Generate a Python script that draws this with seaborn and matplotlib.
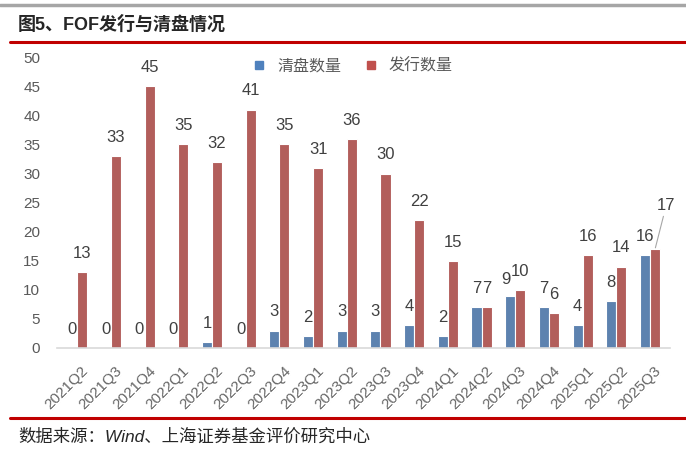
import pandas as pd
import matplotlib
matplotlib.use("Agg")
import matplotlib.pyplot as plt
import matplotlib.transforms as mtransforms
import seaborn as sns
from matplotlib.lines import Line2D

# ── Data ──────────────────────────────────────────────────────────────────────
quarters = ["2021Q2", "2021Q3", "2021Q4", "2022Q1", "2022Q2", "2022Q3",
            "2022Q4", "2023Q1", "2023Q2", "2023Q3", "2023Q4", "2024Q1",
            "2024Q2", "2024Q3", "2024Q4", "2025Q1", "2025Q2", "2025Q3"]
liquidated = [0, 0, 0, 0, 1, 0, 3, 2, 3, 3, 4, 2, 7, 9, 7, 4, 8, 16]
issued = [13, 33, 45, 35, 32, 41, 35, 31, 36, 30, 22, 15, 7, 10, 6, 16, 14, 17]
series_names = ["清盘数量", "发行数量"]
yticks = list(range(0, 51, 5))

BLUE = "#4F81BD"
RED = "#C0504D"
GRAY = "#595959"

df = pd.concat([
    pd.DataFrame({"quarter": quarters, "count": liquidated, "series": series_names[0]}),
    pd.DataFrame({"quarter": quarters, "count": issued, "series": series_names[1]}),
])

sns.set_theme(style="white")
plt.rcParams["font.family"] = ["Liberation Sans", "Noto Sans CJK SC", "DejaVu Sans"]

fig = plt.figure(figsize=(6.86, 4.5), dpi=100)
ax = fig.add_axes([0.083, 0.2267, 0.894, 0.646])

sns.barplot(data=df, x="quarter", y="count", hue="series", order=quarters,
            hue_order=series_names, palette=[BLUE, RED], width=0.6,
            edgecolor="white", linewidth=0.8, ax=ax, legend=False)

ax.set_ylim(0, 50)
ax.set_yticks(yticks)
ax.set_xlim(-0.6, len(quarters) - 0.4)
ax.set_xlabel("")
ax.set_ylabel("")
for s in ["top", "right", "left"]:
    ax.spines[s].set_visible(False)
ax.spines["bottom"].set_color("#D9D9D9")
ax.spines["bottom"].set_linewidth(1.2)
ax.tick_params(axis="y", length=0, labelsize=11, labelcolor=GRAY, pad=12)
ax.tick_params(axis="x", length=0, labelsize=11, labelcolor="#666666", pad=11)
shift = mtransforms.ScaledTranslation(4 / 100, 0, fig.dpi_scale_trans)
for lbl in ax.get_xticklabels():
    lbl.set_rotation(45)
    lbl.set_ha("right")
    lbl.set_rotation_mode("anchor")
    lbl.set_transform(lbl.get_transform() + shift)

# ── Value labels ──────────────────────────────────────────────────────────────
for k, cont in enumerate(ax.containers):
    for i, bar in enumerate(cont):
        h = bar.get_height()
        if k == 1 and i == len(quarters) - 1:
            continue
        xc = bar.get_x() + bar.get_width() / 2
        dx, dy = 0, 8
        if k == 0 and quarters[i] == "2024Q3":
            dx, dy = -3, 6
        ax.annotate(f"{int(h)}", (xc, h), xytext=(dx, dy), textcoords="offset points",
                    ha="center", va="bottom", fontsize=12, color="#404040")

# 2025Q3 issued label has a leader line
last_bar = ax.containers[1][-1]
lx = last_bar.get_x() + last_bar.get_width() / 2
ax.annotate(f"{issued[-1]}", (lx, issued[-1]), xytext=(8, 26), textcoords="offset points",
            ha="center", va="bottom", fontsize=12, color="#404040",
            arrowprops=dict(arrowstyle="-", color="#A6A6A6", lw=0.8,
                            shrinkA=0, shrinkB=1))

# ── Legend ────────────────────────────────────────────────────────────────────
handles = [Line2D([], [], marker="s", linestyle="", markersize=5.5, color=c)
           for c in (BLUE, RED)]
ax.legend(handles, series_names, loc="center", bbox_to_anchor=(0.475, 0.97),
          ncol=2, frameon=False, fontsize=11.5, handletextpad=0.1,
          columnspacing=0.9, labelcolor=GRAY)

# ── Title, rules and source ──────────────────────────────────────────────────
fig.add_artist(Line2D([0.0, 1.0], [0.988, 0.988], color="#A6A6A6", lw=2.5))
fig.text(0.026, 0.945, "图5、FOF发行与清盘情况", fontsize=13, color="#262626",
         va="center", ha="left", fontweight="bold")
fig.add_artist(Line2D([0.015, 1.0], [0.907, 0.907], color="#C00000", lw=2.2))
fig.add_artist(Line2D([0.015, 1.0], [0.071, 0.071], color="#C00000", lw=2.2))
fig.text(0.026, 0.03, "数据来源：Wind、上海证券基金评价研究中心", fontsize=12.5,
         color="#262626", va="center", ha="left", style="italic")

fig.savefig("out.png", dpi=100)
